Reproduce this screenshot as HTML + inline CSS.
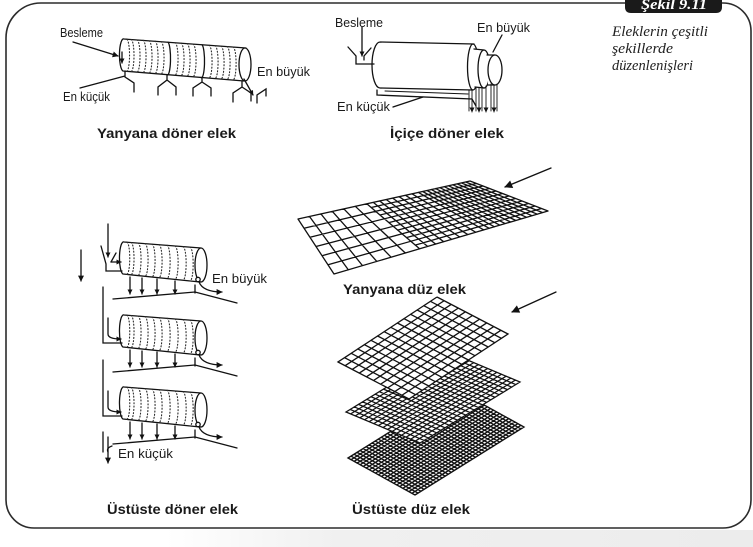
<!DOCTYPE html>
<html><head><meta charset="utf-8">
<style>
html,body{margin:0;padding:0;background:#fff;}
svg{display:block;}
text{font-family:"Liberation Sans","DejaVu Sans",sans-serif;fill:#1a1a1a;}
.t{font-size:13px;}
.b{font-size:14px;font-weight:bold;}
.i{font-family:"Liberation Serif","DejaVu Serif",serif;font-style:italic;font-size:15px;fill:#222;}
.tab{font-family:"Liberation Serif","DejaVu Serif",serif;font-style:italic;font-weight:bold;font-size:15px;fill:#fff;}
.dot{stroke-dasharray:1 2.2;stroke-width:1.1;stroke:#2a2a2a;}
</style></head><body>
<svg width="753" height="547" viewBox="0 0 753 547" xmlns="http://www.w3.org/2000/svg">
<defs>
<marker id="ah" viewBox="0 0 10 10" refX="9" refY="5" markerWidth="6" markerHeight="6" orient="auto" markerUnits="userSpaceOnUse"><path d="M0 0L10 5L0 10z" fill="#111"/></marker>
<marker id="as" viewBox="0 0 10 10" refX="9" refY="5" markerWidth="5" markerHeight="5" orient="auto" markerUnits="userSpaceOnUse"><path d="M0 0L10 5L0 10z" fill="#111"/></marker>
<marker id="al" viewBox="0 0 10 10" refX="9" refY="5" markerWidth="9" markerHeight="8" orient="auto" markerUnits="userSpaceOnUse"><path d="M0 0L10 5L0 10z" fill="#111"/></marker>
<linearGradient id="sh" x1="0" x2="1" y1="0" y2="0"><stop offset="0" stop-color="#fff"/><stop offset="0.22" stop-color="#fff"/><stop offset="0.45" stop-color="#f0f0f0"/><stop offset="1" stop-color="#ececec"/></linearGradient>
</defs>

<!-- shadow below frame -->
<rect x="0" y="530" width="753" height="17" fill="url(#sh)"/>
<!-- frame -->
<path d="M41 3 H723 A28 28 0 0 1 751 31 V500 A28 28 0 0 1 723 528 H34 A28 28 0 0 1 6 500 V38 A35 35 0 0 1 41 3 Z" fill="#fff" stroke="#2b2b2b" stroke-width="1.6"/>
<!-- tab -->
<path d="M625 0 V7 Q625 13 631 13 H716 Q722 13 722 7 V0 Z" fill="#1a1a1a"/>
<text class="tab" x="641" y="9" textLength="66" lengthAdjust="spacingAndGlyphs">Şekil 9.11</text>
<text class="i" x="612" y="36" textLength="96" lengthAdjust="spacingAndGlyphs">Eleklerin çeşitli</text>
<text class="i" x="612" y="53" textLength="61" lengthAdjust="spacingAndGlyphs">şekillerde</text>
<text class="i" x="612" y="70" textLength="81" lengthAdjust="spacingAndGlyphs">düzenlenişleri</text>

<g stroke="#111" stroke-width="1.3" fill="none" stroke-linecap="round">

<!-- ===== Yanyana döner elek ===== -->
<path d="M124 39 L246 48 L244 81 L123 71 Z" fill="#fff" stroke="none"/>
<path d="M124 39 L246 48 M123 71 L244 81 M124 39 A4 16 0 0 0 123 71"/>
<ellipse cx="245" cy="64.5" rx="6" ry="16.5" fill="#fff"/>
<path d="M168 42.2 A3 16.3 0 0 1 167 74.7 M202 44.8 A3 16.4 0 0 1 201 77.5"/>
<path class="dot" d="M127 39.3A3 16 0 0 1 126 71.3M131 39.5A3 16 0 0 1 131 71.6M137 39.9A3 16 0 0 1 137 72.1M143 40.3A3 16 0 0 1 143 72.6M149 40.8A3 16 0 0 1 149 73.1M155 41.2A3 16 0 0 1 155 73.6M161 41.7A3 16 0 0 1 161 74.1M175 42.7A3 16 0 0 1 175 75.2M181 43.2A3 16 0 0 1 181 75.7M187 43.6A3 16 0 0 1 187 76.2M193 44.1A3 16 0 0 1 193 76.7M209 45.3A3 16 0 0 1 209 78M215 45.7A3 16 0 0 1 215 78.5M221 46.2A3 16 0 0 1 221 79M227 46.6A3 16 0 0 1 227 79.5M233 47A3 16 0 0 1 233 80"/>
<path d="M73 42 L118 56" marker-end="url(#ah)"/>
<path d="M122 52 L122 63" marker-end="url(#as)"/>
<path d="M80 88 L125 76 M125 71 V77 L134 83 V92"/>
<path d="M167 75 V80 L158 87 V95 M167 80 L176 87 V95"/>
<path d="M202 78 V82 L193 88 V96 M202 82 L211 88 V96"/>
<path d="M242 81 V87 L233 93 V102 M242 87 L251 93 V101"/>
<path d="M257 103 V95 L266 89 V96"/>
<path d="M244 79 L253 95" marker-end="url(#as)"/>

<!-- ===== İçiçe döner elek ===== -->
<path d="M380 42 L474 44 L473 90 L380 88 Z" fill="#fff" stroke="none"/>
<path d="M380 42 L474 44 M380 88 L473 90 M380 42 A8 23 0 0 0 380 88"/>
<ellipse cx="473" cy="67" rx="5.5" ry="23" fill="#fff"/>
<path d="M474 49 L484 50 L484 88 L475 87 Z" fill="#fff" stroke="none"/>
<path d="M474 49 L484 50 M475 87 L484 88"/>
<ellipse cx="484" cy="69" rx="6" ry="19" fill="#fff"/>
<path d="M487 55 L495 55 L495 85 L488 85 Z" fill="#fff" stroke="none"/>
<path d="M487 55 L495 55 M488 85 L495 85"/>
<ellipse cx="495" cy="70" rx="7" ry="15" fill="#fff"/>
<path d="M362 27 V56" marker-end="url(#as)"/>
<path d="M348 47 L356 56 V64 H374 M371 48 L364 56 V60"/>
<path d="M385 91 L468 94" stroke-width="1"/>
<path d="M377 90 V95 L472 99 L476 106"/>
<path d="M393 107 L423 97"/>
<path d="M502 35 L493 52"/>
<g stroke-width="0.9">
<path d="M469 90 V111 M476 87 V111 M482 87 V111 M491 84 V111 M497 84 V111"/>
<path d="M472 90 V112" marker-end="url(#as)"/>
<path d="M479 88 V112" marker-end="url(#as)"/>
<path d="M486 86 V112" marker-end="url(#as)"/>
<path d="M494 85 V112" marker-end="url(#as)"/>
</g>

<!-- ===== Yanyana düz elek ===== -->
<path d="M298 219 L470 181 L548 211 L334 274 Z" fill="#fff" stroke="none"/>
<path stroke-width="1.3" d="M298 219L334 274M309.5 216.5L348.3 269.8M320.9 213.9L362.5 265.6M332.4 211.4L376.8 261.4M343.9 208.9L391.1 257.2M355.3 206.3L405.3 253M366.8 203.8L419.6 248.8M373.3 202.4L427.6 246.4M379.7 201L435.7 244.1M386.2 199.5L443.7 241.7M392.6 198.1L451.7 239.4M399.1 196.7L459.7 237M405.5 195.3L467.8 234.6M412 193.8L475.8 232.3M418.4 192.4L483.8 229.9M422.7 191.5L489.2 228.3M427 190.5L494.5 226.8M431.3 189.6L499.9 225.2M435.6 188.6L505.2 223.6M439.9 187.7L510.6 222M444.2 186.7L515.9 220.5M448.5 185.8L521.3 218.9M452.8 184.8L526.6 217.3M457.1 183.9L532 215.7M461.4 182.9L537.3 214.2M465.7 182L542.7 212.6M470 181L548 211M298 219L470 181M304 228.2L483 186M310 237.3L496 191M316 246.5L509 196M322 255.7L522 201M328 264.8L535 206M334 274L548 211M371.2 207.5L476.5 183.5M380 215L489.5 188.5M388.8 222.6L502.5 193.5M397.6 230.1L515.5 198.5M406.4 237.6L528.5 203.5M415.2 245.1L541.5 208.5"/>
<path d="M551 168 L505 187" marker-end="url(#al)"/>

<!-- ===== Üstüste düz elek ===== -->
<g transform="matrix(3.045 1.682 -3.028 1.889 457 390)">
<rect x="0" y="0" width="22" height="36" fill="#fff" stroke="none"/>
<path vector-effect="non-scaling-stroke" stroke-width="1.35" stroke-linecap="butt" d="M0 0V36H1V0H2V36H3V0H4V36H5V0H6V36H7V0H8V36H9V0H10V36H11V0H12V36H13V0H14V36H15V0H16V36H17V0H18V36H19V0H20V36H21V0H22V36M0 0H22V1H0V2H22V3H0V4H22V5H0V6H22V7H0V8H22V9H0V10H22V11H0V12H22V13H0V14H22V15H0V16H22V17H0V18H22V19H0V20H22V21H0V22H22V23H0V24H22V25H0V26H22V27H0V28H22V29H0V30H22V31H0V32H22V33H0V34H22V35H0V36H22"/>
</g>
<g transform="matrix(4.625 1.9375 -4.1667 2.5417 446 351)">
<rect x="0" y="0" width="16" height="24" fill="#fff" stroke="none"/>
<path vector-effect="non-scaling-stroke" stroke-width="1.25" stroke-linecap="butt" d="M0 0V24H1V0H2V24H3V0H4V24H5V0H6V24H7V0H8V24H9V0H10V24H11V0H12V24H13V0H14V24H15V0H16V24M0 0H16V1H0V2H16V3H0V4H16V5H0V6H16V7H0V8H16V9H0V10H16V11H0V12H16V13H0V14H16V15H0V16H16V17H0V18H16V19H0V20H16V21H0V22H16V23H0V24H16"/>
</g>
<g transform="matrix(7.1 3.7 -6.6 4.333 437 297)">
<rect x="0" y="0" width="10" height="15" fill="#fff" stroke="none"/>
<path vector-effect="non-scaling-stroke" stroke-width="1.3" stroke-linecap="butt" d="M0 0V15H1V0H2V15H3V0H4V15H5V0H6V15H7V0H8V15H9V0H10V15M0 0H10V1H0V2H10V3H0V4H10V5H0V6H10V7H0V8H10V9H0V10H10V11H0V12H10V13H0V14H10V15H0"/>
</g>
<path d="M556 292 L512 312" marker-end="url(#al)"/>

<!-- ===== Üstüste döner elek ===== -->
<g id="unit">
<path d="M124 242 L201 248 L200 282 L123 274 Z" fill="#fff" stroke="none"/>
<path d="M124 242 L201 248 M123 274 L200 282 M124 242 A4 16 0 0 0 123 274"/>
<ellipse cx="201" cy="265" rx="6" ry="17" fill="#fff"/>
<path class="dot" d="M127 242.2A3 16 0 0 1 126.5 274.3M131 242.5A3 16 0 0 1 131 274.8M138 243A3 16 0 0 1 138 275.5M145 243.6A3 16 0 0 1 145 276.3M152 244.2A3 16 0 0 1 152 277M159 244.7A3 16 0 0 1 159 277.7M167 245.3A3 16 0 0 1 167 278.6M175 246.1A3 16 0 0 1 175 279.4M183 246.7A3 16 0 0 1 183 280.2M190 247.2A3 16 0 0 1 190 281"/>
<circle cx="198" cy="279.5" r="2.2" fill="#fff"/>
<path d="M199 282 Q203 292 222 292" marker-end="url(#ah)"/>
<path d="M130 277 V294" marker-end="url(#as)"/>
<path d="M142 278 V294" marker-end="url(#as)"/>
<path d="M157 279 V294" marker-end="url(#as)"/>
<path d="M175 281 V294" marker-end="url(#as)"/>
<path d="M195 285 V293"/>
<path d="M113 299 L195 292 L237 303"/>
</g>
<use href="#unit" transform="translate(0,73)"/>
<use href="#unit" transform="translate(0,145)"/>

<path d="M81 250 V281" marker-end="url(#ah)"/>
<path d="M108 224 V257" marker-end="url(#as)"/>
<path d="M101 246 L106 264 V271 H122 M116 253 L111 262"/>
<path d="M111 262 H121" marker-end="url(#as)"/>
<path d="M103 287 V343 H122"/>
<path d="M108 318 V334 Q108 339 121 339" marker-end="url(#as)"/>
<path d="M103 360 V416 H122"/>
<path d="M108 391 V407 Q108 412 121 412" marker-end="url(#as)"/>
<path d="M103 432 V452"/>
<path d="M112 446 Q106 448 108 452"/>
<path d="M108 437 V463" marker-end="url(#ah)"/>
</g>

<!-- labels -->
<text class="t" x="60" y="37" textLength="43" lengthAdjust="spacingAndGlyphs">Besleme</text>
<text class="t" x="63" y="101" textLength="47" lengthAdjust="spacingAndGlyphs">En küçük</text>
<text class="t" x="257" y="76" textLength="53" lengthAdjust="spacingAndGlyphs">En büyük</text>
<text class="b" x="97" y="138" textLength="139" lengthAdjust="spacingAndGlyphs">Yanyana döner elek</text>

<text class="t" x="335" y="27" textLength="48" lengthAdjust="spacingAndGlyphs">Besleme</text>
<text class="t" x="477" y="32" textLength="53" lengthAdjust="spacingAndGlyphs">En büyük</text>
<text class="t" x="337" y="111" textLength="53" lengthAdjust="spacingAndGlyphs">En küçük</text>
<text class="b" x="390" y="138" textLength="114" lengthAdjust="spacingAndGlyphs">İçiçe döner elek</text>

<text class="b" x="343" y="294" textLength="123" lengthAdjust="spacingAndGlyphs">Yanyana düz elek</text>

<text class="t" x="212" y="283" textLength="55" lengthAdjust="spacingAndGlyphs">En büyük</text>
<text class="t" x="118" y="458" textLength="55" lengthAdjust="spacingAndGlyphs">En küçük</text>
<text class="b" x="107" y="514" textLength="131" lengthAdjust="spacingAndGlyphs">Üstüste döner elek</text>
<text class="b" x="352" y="514" textLength="118" lengthAdjust="spacingAndGlyphs">Üstüste düz elek</text>
</svg>
</body></html>
